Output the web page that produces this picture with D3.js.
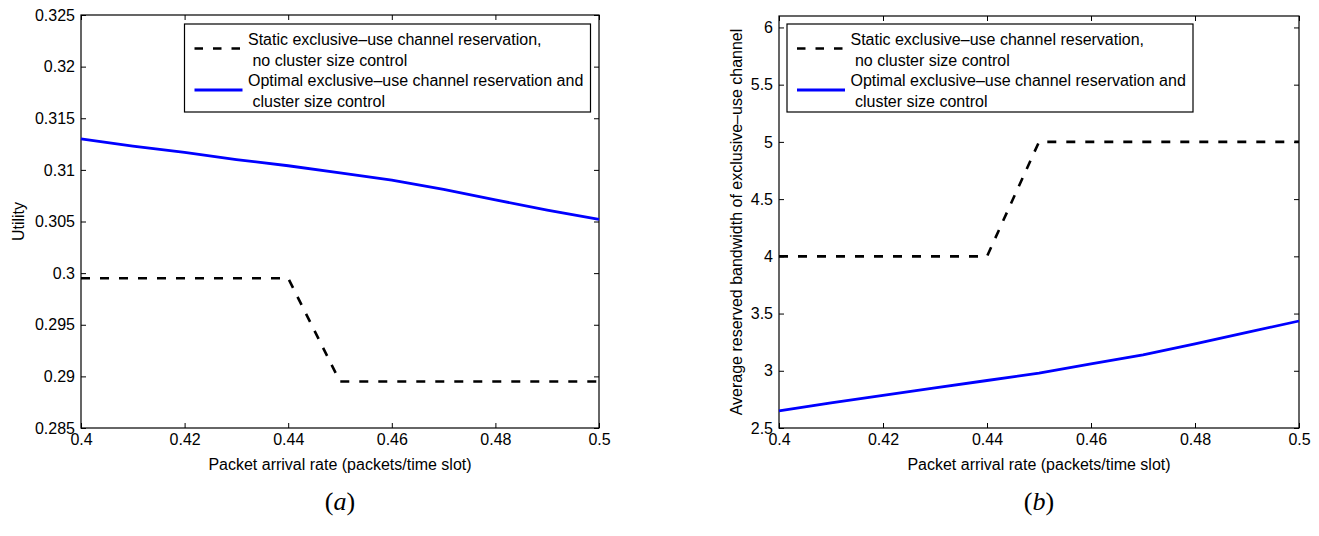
<!DOCTYPE html>
<html>
<head>
<meta charset="utf-8">
<script src="https://cdn.jsdelivr.net/npm/d3@7"></script>
<style>
  html, body { margin: 0; padding: 0; background: #fff; }
  svg { display: block; }
  text { font-family: "Liberation Sans", Arial, Helvetica, sans-serif; fill: #000; }
</style>
</head>
<body>
<svg id="chart" width="1319" height="536"></svg>
<script>
// ---------- data ----------
const arrivalRates = [0.40, 0.41, 0.42, 0.43, 0.44, 0.45, 0.46, 0.47, 0.48, 0.49, 0.50];
const staticUtility = [0.2995, 0.2995, 0.2995, 0.2995, 0.2995, 0.2895, 0.2895, 0.2895, 0.2895, 0.2895, 0.2895];
const optimalUtility = [0.3130, 0.3123, 0.3117, 0.3110, 0.3104, 0.3097, 0.3090, 0.3081, 0.3071, 0.3061, 0.3052];
const staticBandwidth = [4, 4, 4, 4, 4, 5, 5, 5, 5, 5, 5];
const optimalBandwidth = [2.65, 2.72, 2.785, 2.85, 2.915, 2.98, 3.06, 3.14, 3.235, 3.335, 3.435];

const xTicks = [0.40, 0.42, 0.44, 0.46, 0.48, 0.50];
const xTickLabels = ["0.4", "0.42", "0.44", "0.46", "0.48", "0.5"];
const utilityTicks = [0.285, 0.29, 0.295, 0.3, 0.305, 0.31, 0.315, 0.32, 0.325];
const utilityTickLabels = ["0.285", "0.29", "0.295", "0.3", "0.305", "0.31", "0.315", "0.32", "0.325"];
const bandwidthTicks = [2.5, 3, 3.5, 4, 4.5, 5, 5.5, 6];
const bandwidthTickLabels = ["2.5", "3", "3.5", "4", "4.5", "5", "5.5", "6"];

const legendLines = [
  "Static exclusive\u2013use channel reservation,",
  " no cluster size control",
  "Optimal exclusive\u2013use channel reservation and",
  " cluster size control"
];
const xLabel = "Packet arrival rate (packets/time slot)";
const yLabelA = "Utility";
const yLabelB = "Average reserved bandwidth of exclusive\u2013use channel";

// ---------- drawing ----------
const svg = d3.select("#chart");
const FS = 16;

function panel(opts) {
  const g = svg.append("g");
  const x = d3.scaleLinear().domain([0.4, 0.5]).range([opts.left, opts.right]);
  const y = d3.scaleLinear().domain(opts.yDomain).range([opts.bottom, opts.top]);
  const tl = 5;

  // box
  g.append("rect")
    .attr("x", opts.left).attr("y", opts.top)
    .attr("width", opts.right - opts.left).attr("height", opts.bottom - opts.top)
    .attr("fill", "none").attr("stroke", "#000").attr("stroke-width", 1.2);

  // axes via d3
  const xAxis = d3.axisBottom(x).tickValues(xTicks)
    .tickFormat((d, i) => xTickLabels[i]).tickSizeInner(-tl).tickSizeOuter(0).tickPadding(6);
  const gx = g.append("g").attr("transform", `translate(0,${opts.bottom})`).call(xAxis);
  gx.select(".domain").remove();
  gx.selectAll("line").attr("stroke", "#000");
  gx.selectAll("text").attr("font-size", FS).attr("font-family", "Liberation Sans, Arial, sans-serif")
    .attr("dy", null).attr("y", 17);

  const xAxisTop = d3.axisTop(x).tickValues(xTicks).tickFormat("").tickSizeInner(-tl).tickSizeOuter(0);
  const gxt = g.append("g").attr("transform", `translate(0,${opts.top})`).call(xAxisTop);
  gxt.select(".domain").remove();
  gxt.selectAll("line").attr("stroke", "#000");

  const yAxis = d3.axisLeft(y).tickValues(opts.yTicks)
    .tickFormat((d, i) => opts.yTickLabels[i]).tickSizeInner(-tl).tickSizeOuter(0).tickPadding(6);
  const gy = g.append("g").attr("transform", `translate(${opts.left},0)`).call(yAxis);
  gy.select(".domain").remove();
  gy.selectAll("line").attr("stroke", "#000");
  gy.selectAll("text").attr("font-size", FS).attr("font-family", "Liberation Sans, Arial, sans-serif")
    .attr("x", -6);

  const yAxisRight = d3.axisRight(y).tickValues(opts.yTicks).tickFormat("").tickSizeInner(-tl).tickSizeOuter(0);
  const gyr = g.append("g").attr("transform", `translate(${opts.right},0)`).call(yAxisRight);
  gyr.select(".domain").remove();
  gyr.selectAll("line").attr("stroke", "#000");

  // lines
  const line = (vals) => d3.line().x((d, i) => x(arrivalRates[i])).y(d => y(d))(vals);
  g.append("path").attr("d", line(opts.staticVals))
    .attr("fill", "none").attr("stroke", "#000").attr("stroke-width", 2.6)
    .attr("stroke-dasharray", "9,10");
  g.append("path").attr("d", line(opts.optimalVals))
    .attr("fill", "none").attr("stroke", "#0000ff").attr("stroke-width", 2.8);

  // axis labels
  g.append("text").attr("x", (opts.left + opts.right) / 2).attr("y", 470)
    .attr("text-anchor", "middle").attr("font-size", FS).text(xLabel);
  g.append("text")
    .attr("transform", `translate(${opts.yLabelX},${(opts.top + opts.bottom) / 2}) rotate(-90)`)
    .attr("text-anchor", "middle").attr("font-size", FS).text(opts.yLabel);

  // legend
  const lx = opts.left + opts.legendOffset;
  const lw = 406, lt = 24, lh = 88;
  g.append("rect").attr("x", lx).attr("y", lt).attr("width", lw).attr("height", lh)
    .attr("fill", "#fff").attr("stroke", "#000").attr("stroke-width", 1.2);
  g.append("line").attr("x1", lx + 10).attr("x2", lx + 58).attr("y1", lt + 24.5).attr("y2", lt + 24.5)
    .attr("stroke", "#000").attr("stroke-width", 2.6).attr("stroke-dasharray", "8.5,10");
  g.append("line").attr("x1", lx + 10).attr("x2", lx + 58).attr("y1", lt + 66).attr("y2", lt + 66)
    .attr("stroke", "#0000ff").attr("stroke-width", 2.8);
  const baselines = [45, 65.5, 86, 106.5];
  legendLines.forEach((t, i) => {
    g.append("text").attr("x", lx + 63.5).attr("y", baselines[i])
      .attr("font-size", FS).attr("xml:space", "preserve").style("white-space", "pre").text(t);
  });

  // caption
  const cap = g.append("text").attr("x", (opts.left + opts.right) / 2).attr("y", 510)
    .attr("text-anchor", "middle").attr("font-size", 26)
    .style("font-family", "'Liberation Serif', 'DejaVu Serif', serif");
  cap.append("tspan").text("(");
  cap.append("tspan").style("font-style", "italic").text(opts.caption);
  cap.append("tspan").text(")");
}

panel({
  left: 81, right: 599, top: 15, bottom: 428,
  yDomain: [0.285, 0.325], yTicks: utilityTicks, yTickLabels: utilityTickLabels,
  staticVals: staticUtility, optimalVals: optimalUtility,
  yLabel: yLabelA, yLabelX: 24, legendOffset: 103.5, caption: "a"
});
panel({
  left: 779, right: 1299, top: 16, bottom: 428,
  yDomain: [2.5, 6.1], yTicks: bandwidthTicks, yTickLabels: bandwidthTickLabels,
  staticVals: staticBandwidth, optimalVals: optimalBandwidth,
  yLabel: yLabelB, yLabelX: 742, legendOffset: 8, caption: "b"
});
</script>
</body>
</html>
